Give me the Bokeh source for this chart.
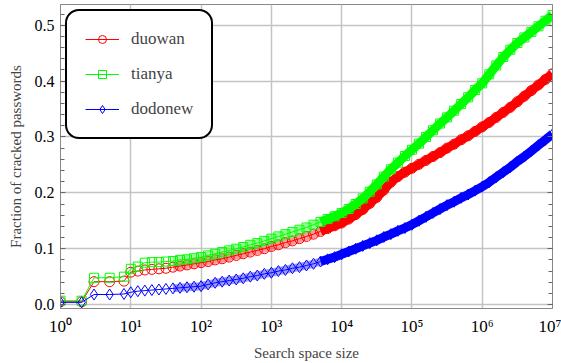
import numpy as np
from bokeh.plotting import figure
from bokeh.models import (Legend, LegendItem, FixedTicker, LinearAxis,
                          SingleIntervalTicker, PrintfTickFormatter)
from bokeh.embed import file_html
from bokeh.resources import INLINE

# ---- data ----
low_x = [1, 2, 3, 5, 8]
duowan_low = [0.005, 0.005, 0.041, 0.041, 0.042]
tianya_low = [0.007, 0.007, 0.048, 0.048, 0.050]
dodonew_low = [0.004, 0.004, 0.018, 0.018, 0.019]

search_exp = [1.0, 1.1, 1.2, 1.3, 1.4, 1.5, 1.6, 1.7, 1.8, 1.9,
              2.0, 2.1, 2.2, 2.3, 2.4, 2.5, 2.6, 2.7, 2.8, 2.9,
              3.0, 3.1, 3.2, 3.3, 3.4, 3.5, 3.6, 3.7, 3.8, 3.9,
              4.0, 4.1, 4.2, 4.3, 4.4, 4.5, 4.6, 4.7, 4.8, 4.9,
              5.0, 5.1, 5.2, 5.3, 5.4, 5.5, 5.6, 5.7, 5.8, 5.9,
              6.0, 6.1, 6.2, 6.3, 6.4, 6.5, 6.6, 6.7, 6.8, 6.9, 7.0]

duowan = [0.058, 0.060, 0.062, 0.063, 0.064, 0.065, 0.067, 0.069, 0.071, 0.073,
          0.075, 0.077, 0.080, 0.082, 0.085, 0.088, 0.091, 0.094, 0.097, 0.100,
          0.104, 0.107, 0.111, 0.114, 0.118, 0.122, 0.126, 0.131, 0.136, 0.141,
          0.146, 0.153, 0.161, 0.170, 0.181, 0.192, 0.205, 0.219, 0.229, 0.237,
          0.244, 0.251, 0.258, 0.265, 0.272, 0.280, 0.287, 0.295, 0.302, 0.310,
          0.318, 0.326, 0.335, 0.344, 0.353, 0.363, 0.373, 0.383, 0.393, 0.403, 0.413]

tianya = [0.064, 0.068, 0.075, 0.076, 0.076, 0.077, 0.078, 0.080, 0.081, 0.083,
          0.085, 0.088, 0.091, 0.094, 0.097, 0.100, 0.103, 0.107, 0.110, 0.114,
          0.118, 0.122, 0.126, 0.130, 0.134, 0.138, 0.143, 0.148, 0.153, 0.158,
          0.164, 0.171, 0.180, 0.190, 0.202, 0.215, 0.229, 0.242, 0.254, 0.266,
          0.277, 0.288, 0.300, 0.312, 0.324, 0.335, 0.347, 0.359, 0.371, 0.384,
          0.396, 0.412, 0.428, 0.443, 0.456, 0.468, 0.478, 0.488, 0.498, 0.508, 0.518]

dodonew = [0.022, 0.024, 0.025, 0.026, 0.027, 0.028, 0.029, 0.030, 0.031, 0.032,
           0.033, 0.036, 0.039, 0.041, 0.043, 0.045, 0.047, 0.050, 0.052, 0.055,
           0.057, 0.060, 0.062, 0.065, 0.067, 0.070, 0.073, 0.077, 0.081, 0.085,
           0.090, 0.095, 0.100, 0.105, 0.110, 0.115, 0.121, 0.126, 0.132, 0.137,
           0.143, 0.150, 0.157, 0.164, 0.171, 0.178, 0.184, 0.191, 0.197, 0.204,
           0.211, 0.219, 0.228, 0.237, 0.246, 0.256, 0.265, 0.275, 0.285, 0.295, 0.305]

x_ticks = [1, 10, 100, 1000, 10000, 100000, 1000000, 10000000]
x_tick_labels = ["10⁰", "10¹", "10²", "10³", "10⁴", "10⁵", "10⁶", "10⁷"]

series = [
    ("duowan", duowan_low, duowan, "#ff0000", "circle", 10),
    ("tianya", tianya_low, tianya, "#00ff00", "square", 9),
    ("dodonew", dodonew_low, dodonew, "#0000ff", "diamond", 11),
]

FONT = "Liberation Serif"

p = figure(width=561, height=363, x_axis_type="log",
           x_range=(1, 1e7), y_range=(-0.007, 0.537),
           output_backend="svg", toolbar_location=None,
           min_border_left=60, min_border_right=9,
           min_border_top=4, min_border_bottom=54,
           background_fill_color="white", border_fill_color="white")

p.outline_line_color = "#888888"
p.outline_line_width = 1

search_x = [10 ** e for e in search_exp]
mid_start = search_exp.index(1.6)
dense_start = search_exp.index(3.7)

items = []
for name, lowv, vals, col, mk, sz in series:
    xs = list(low_x) + search_x
    ys = list(lowv) + list(vals)
    ln = p.line(xs, ys, line_color=col, line_width=1)
    p.line(search_x[mid_start:dense_start + 1], vals[mid_start:dense_start + 1],
           line_color=col, line_width=8, line_alpha=0.4)
    p.line(search_x[dense_start:], vals[dense_start:], line_color=col,
           line_width=9, line_alpha=1.0)
    sc = p.scatter(xs, ys, marker=mk, size=sz, line_color=col,
                   fill_color=None, line_width=1)
    items.append(LegendItem(label=name, renderers=[ln, sc]))

# axes
p.xaxis.ticker = FixedTicker(ticks=x_ticks)
p.xaxis.major_label_overrides = {t: l for t, l in zip(x_ticks, x_tick_labels)}
p.xaxis.major_tick_in = 0
p.xaxis.major_tick_out = 0
p.xaxis.minor_tick_line_color = None
p.xaxis.axis_line_color = "#888888"
p.xaxis.major_label_text_font = FONT
p.xaxis.major_label_text_font_size = "17px"
p.xaxis.major_label_text_color = "black"
p.xaxis.major_label_standoff = 8
p.xaxis.axis_label = "Search space size"
p.xaxis.axis_label_text_font = FONT
p.xaxis.axis_label_text_font_size = "15px"
p.xaxis.axis_label_text_font_style = "normal"
p.xaxis.axis_label_standoff = 6

p.yaxis.ticker = SingleIntervalTicker(interval=0.1, num_minor_ticks=5)
p.yaxis.formatter = PrintfTickFormatter(format="%.1f")
p.yaxis.major_tick_in = 5
p.yaxis.major_tick_out = 0
p.yaxis.minor_tick_in = 4
p.yaxis.minor_tick_out = 0
p.yaxis.axis_line_color = "#888888"
p.yaxis.major_tick_line_color = "#666666"
p.yaxis.minor_tick_line_color = "#666666"
p.yaxis.major_label_text_font = FONT
p.yaxis.major_label_text_font_size = "16px"
p.yaxis.major_label_text_color = "black"
p.yaxis.major_label_standoff = 6
p.yaxis.axis_label = "Fraction of cracked passwords"
p.yaxis.axis_label_text_font = FONT
p.yaxis.axis_label_text_font_size = "15px"
p.yaxis.axis_label_text_font_style = "normal"
p.yaxis.axis_label_standoff = 8

right = LinearAxis(ticker=SingleIntervalTicker(interval=0.1, num_minor_ticks=5),
                   major_label_text_color=None, major_label_text_font_size="0px",
                   major_tick_in=5, major_tick_out=0, minor_tick_in=4, minor_tick_out=0,
                   axis_line_color="#888888", major_tick_line_color="#666666",
                   minor_tick_line_color="#666666")
p.add_layout(right, "right")

p.xgrid.ticker = FixedTicker(ticks=x_ticks)
p.xgrid.grid_line_color = "#c4c4c4"
p.xgrid.grid_line_width = 1.5
p.ygrid.grid_line_color = "#c4c4c4"
p.ygrid.grid_line_width = 1.5

legend = Legend(items=items, location="top_left", margin=5,
                padding=18, spacing=15, glyph_width=34, glyph_height=20,
                label_height=20, label_standoff=12,
                label_text_font=FONT, label_text_font_size="17px",
                border_line_color="black", border_line_width=2.5,
                border_line_alpha=1.0,
                background_fill_color="white", background_fill_alpha=1.0)
if "border_radius" in Legend.properties():
    legend.border_radius = 14
p.add_layout(legend)

open("out.html", "w").write(file_html(p, INLINE))
